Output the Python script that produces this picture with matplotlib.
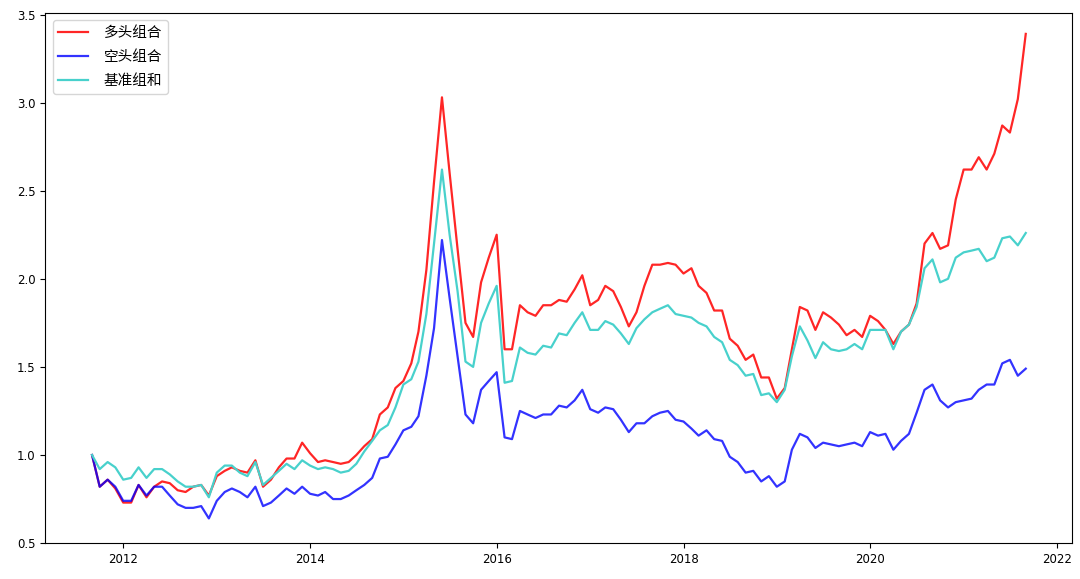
import matplotlib as mpl
mpl.use('Agg')
import matplotlib.pyplot as plt
import pandas as pd

plt.rcParams['font.family'] = ['Noto Sans CJK SC', 'DejaVu Sans']

# monthly net values, 2011-08 .. 2021-08
dates = pd.date_range('2011-08-31', periods=121, freq='ME')

long_nav = [
  1.00, 0.82, 0.86, 0.81, 0.73, 0.73, 0.83, 0.76, 0.82, 0.85,
  0.84, 0.80, 0.79, 0.82, 0.83, 0.77, 0.88, 0.91, 0.93, 0.91,
  0.90, 0.97, 0.82, 0.86, 0.93, 0.98, 0.98, 1.07, 1.01, 0.96,
  0.97, 0.96, 0.95, 0.96, 1.00, 1.05, 1.09, 1.23, 1.27, 1.38,
  1.42, 1.52, 1.70, 2.05, 2.55, 3.03, 2.60, 2.17, 1.75, 1.67,
  1.98, 2.12, 2.25, 1.60, 1.60, 1.85, 1.81, 1.79, 1.85, 1.85,
  1.88, 1.87, 1.94, 2.02, 1.85, 1.88, 1.96, 1.93, 1.84, 1.73,
  1.81, 1.96, 2.08, 2.08, 2.09, 2.08, 2.03, 2.06, 1.96, 1.92,
  1.82, 1.82, 1.66, 1.62, 1.54, 1.57, 1.44, 1.44, 1.32, 1.38,
  1.60, 1.84, 1.82, 1.71, 1.81, 1.78, 1.74, 1.68, 1.71, 1.67,
  1.79, 1.76, 1.71, 1.63, 1.70, 1.74, 1.86, 2.20, 2.26, 2.17,
  2.19, 2.45, 2.62, 2.62, 2.69, 2.62, 2.71, 2.87, 2.83, 3.02,
  3.39,
]

short_nav = [
  1.00, 0.82, 0.86, 0.82, 0.74, 0.74, 0.83, 0.77, 0.82, 0.82,
  0.77, 0.72, 0.70, 0.70, 0.71, 0.64, 0.74, 0.79, 0.81, 0.79,
  0.76, 0.82, 0.71, 0.73, 0.77, 0.81, 0.78, 0.82, 0.78, 0.77,
  0.79, 0.75, 0.75, 0.77, 0.80, 0.83, 0.87, 0.98, 0.99, 1.06,
  1.14, 1.16, 1.22, 1.45, 1.72, 2.22, 1.89, 1.56, 1.23, 1.18,
  1.37, 1.42, 1.47, 1.10, 1.09, 1.25, 1.23, 1.21, 1.23, 1.23,
  1.28, 1.27, 1.31, 1.37, 1.26, 1.24, 1.27, 1.26, 1.20, 1.13,
  1.18, 1.18, 1.22, 1.24, 1.25, 1.20, 1.19, 1.15, 1.11, 1.14,
  1.09, 1.08, 0.99, 0.96, 0.90, 0.91, 0.85, 0.88, 0.82, 0.85,
  1.03, 1.12, 1.10, 1.04, 1.07, 1.06, 1.05, 1.06, 1.07, 1.05,
  1.13, 1.11, 1.12, 1.03, 1.08, 1.12, 1.24, 1.37, 1.40, 1.31,
  1.27, 1.30, 1.31, 1.32, 1.37, 1.40, 1.40, 1.52, 1.54, 1.45,
  1.49,
]

bench_nav = [
  1.00, 0.92, 0.96, 0.93, 0.86, 0.87, 0.93, 0.87, 0.92, 0.92,
  0.89, 0.85, 0.82, 0.82, 0.83, 0.76, 0.90, 0.94, 0.94, 0.90,
  0.88, 0.96, 0.83, 0.87, 0.91, 0.95, 0.92, 0.97, 0.94, 0.92,
  0.93, 0.92, 0.90, 0.91, 0.95, 1.02, 1.08, 1.14, 1.17, 1.27,
  1.40, 1.43, 1.53, 1.80, 2.20, 2.62, 2.25, 1.93, 1.53, 1.50,
  1.75, 1.86, 1.96, 1.41, 1.42, 1.61, 1.58, 1.57, 1.62, 1.61,
  1.69, 1.68, 1.75, 1.81, 1.71, 1.71, 1.76, 1.74, 1.69, 1.63,
  1.72, 1.77, 1.81, 1.83, 1.85, 1.80, 1.79, 1.78, 1.75, 1.73,
  1.67, 1.64, 1.54, 1.51, 1.45, 1.46, 1.34, 1.35, 1.30, 1.37,
  1.56, 1.73, 1.65, 1.55, 1.64, 1.60, 1.59, 1.60, 1.63, 1.60,
  1.71, 1.71, 1.71, 1.60, 1.70, 1.74, 1.84, 2.06, 2.11, 1.98,
  2.00, 2.12, 2.15, 2.16, 2.17, 2.10, 2.12, 2.23, 2.24, 2.19,
  2.26,
]

fig = plt.figure(figsize=(10.8, 5.79), dpi=100)
ax = fig.add_axes([0.042, 0.062, 0.951, 0.916])

ax.plot(dates, long_nav, color='red', alpha=0.85, lw=1.6, label='多头组合')
ax.plot(dates, short_nav, color='blue', alpha=0.8, lw=1.6, label='空头组合')
ax.plot(dates, bench_nav, color='mediumturquoise', lw=1.6, label='基准组和')
ax.set_ylim(0.5, 3.51)

ax.legend(loc='upper left', fontsize=10.5, handletextpad=1.1, labelspacing=0.7)
ax.tick_params(labelsize=8.5)
for lab in ax.get_xticklabels() + ax.get_yticklabels():
  lab.set_family(['Liberation Sans Narrow', 'DejaVu Sans'])

plt.savefig('out.png')
plt.close()
